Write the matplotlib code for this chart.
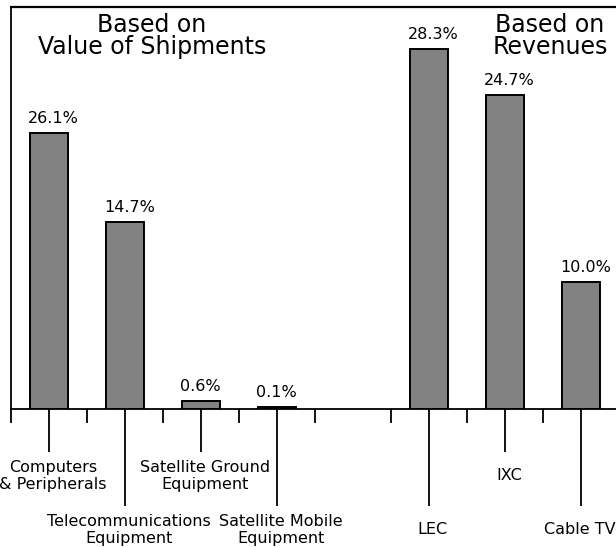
import matplotlib
matplotlib.use("Agg")
import matplotlib.pyplot as plt

# ---- data ----
categories = ["Computers\n& Peripherals", "Telecommunications\nEquipment",
              "Satellite Ground\nEquipment", "Satellite Mobile\nEquipment",
              "LEC", "IXC", "Cable TV"]
slots = [0, 1, 2, 3, 5, 6, 7]
value_labels = ["26.1%", "14.7%", "0.6%", "0.1%", "28.3%", "24.7%", "10.0%"]
drawn_heights = [21.7, 14.7, 0.6, 0.15, 28.3, 24.7, 10.0]  # heights as drawn in the source
label_level = [1, 2, 1, 2, 2, 1, 2]  # short / long leader line
group_titles = ["Based on\nValue of Shipments", "Based on\nRevenues"]

W, H = 616, 548
fig = plt.figure(figsize=(W / 100, H / 100), dpi=100)
ax_left, ax_bottom, ax_w, ax_h = 11, 139, 605, 402
ax = fig.add_axes([ax_left / W, ax_bottom / H, ax_w / W, ax_h / H])
ax.set_xlim(-0.5, 7.46)
ax.set_ylim(0, 31.6)

bar_color = "#828282"
ax.bar(slots, drawn_heights, width=0.5, color=bar_color, edgecolor="black",
       linewidth=1.4, zorder=3)

ax.spines["right"].set_visible(False)
ax.spines["top"].set_linewidth(1.6)
ax.spines["left"].set_linewidth(1.3)
ax.spines["bottom"].set_linewidth(1.3)
ax.set_xticks([])
ax.set_yticks([])

xt = ax.get_xaxis_transform()
px = 1.0 / ax_h  # one pixel in axes-fraction units (vertical)

# minor separators
minor_x = [k - 0.5 for k in range(8)]
ax.vlines(minor_x, -14 * px, 0, transform=xt, color="black", lw=1.3, clip_on=False)

# leader lines and labels
lengths = {1: 43, 2: 97}
for i, (s, cat, lvl) in enumerate(zip(slots, categories, label_level)):
    L = lengths[lvl]
    ax.vlines(s, -L * px, 0, transform=xt, color="black", lw=1.3, clip_on=False)
    nudge = 0.05 if i < len(slots) - 1 else -0.01
    ax.text(s + nudge, -(L + 24) * px, cat, transform=xt, ha="center", va="center",
            fontsize=11.5, linespacing=1.1, clip_on=False, family="DejaVu Sans")

# value labels
for s, h, lab in zip(slots, drawn_heights, value_labels):
    ax.annotate(lab, xy=(s - 0.25, h), xytext=(-2 * 0.72, 10 * 0.72),
                textcoords="offset points", ha="left", va="baseline",
                fontsize=11.5, family="DejaVu Sans")

# group titles
fig.text(152 / W, 1 - 13 / H, group_titles[0], ha="center", va="top",
         fontsize=17, linespacing=0.9, family="DejaVu Sans", multialignment="center")
fig.text(550 / W, 1 - 13 / H, group_titles[1], ha="center", va="top",
         fontsize=17, linespacing=0.9, family="DejaVu Sans", multialignment="center")

fig.savefig("out.png", dpi=100)
